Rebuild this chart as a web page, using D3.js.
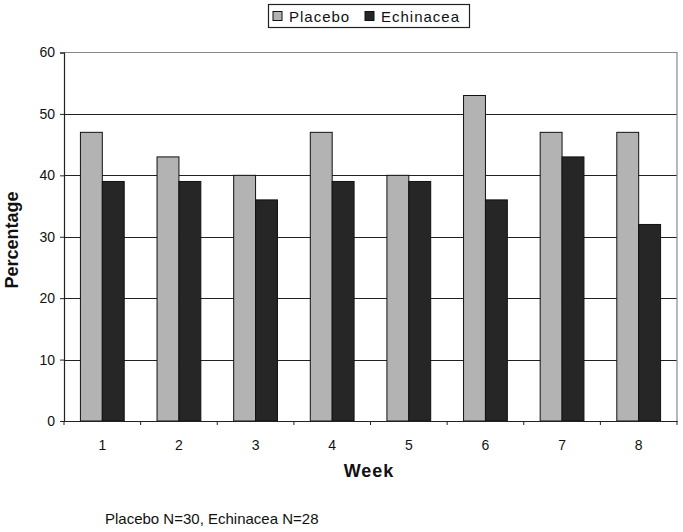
<!DOCTYPE html>
<html>
<head>
<meta charset="utf-8">
<script src="https://cdn.jsdelivr.net/npm/d3@7"></script>
<style>
  body { margin: 0; background: #fff; }
  text { font-family: Arial, "Liberation Sans", sans-serif; fill: #111; }
</style>
</head>
<body>
<script>
// chart data
var weeks = ["1", "2", "3", "4", "5", "6", "7", "8"];
var placebo = [47, 43, 40, 47, 40, 53, 47, 47];
var echinacea = [39, 39, 36, 39, 39, 36, 43, 32];
var seriesNames = ["Placebo", "Echinacea"];
var yTicks = [0, 10, 20, 30, 40, 50, 60];

var colors = ["#b3b3b3", "#262626"];

var svg = d3.select("body").append("svg")
    .attr("width", 683)
    .attr("height", 532);

var plotL = 64, plotR = 677, plotT = 52.5, plotB = 421;

var x = d3.scaleBand().domain(weeks).range([plotL, plotR]);
var y = d3.scaleLinear().domain([0, 60]).range([plotB, plotT]);
var barW = x.bandwidth() / 3.5;

// grid lines
svg.append("g").selectAll("line")
    .data(yTicks.filter(function(d){ return d > 0 && d < 60; }))
    .enter().append("line")
    .attr("x1", plotL).attr("x2", plotR)
    .attr("y1", function(d){ return Math.round(y(d)) + 0.5; })
    .attr("y2", function(d){ return Math.round(y(d)) + 0.5; })
    .attr("stroke", "#222").attr("stroke-width", 1.2);

// plot border (top/right)
svg.append("path")
    .attr("d", "M" + plotL + "," + plotT + "H" + plotR + "V" + plotB)
    .attr("fill", "none").attr("stroke", "#888").attr("stroke-width", 1.2);

// bars
var table = weeks.map(function(w, i){ return { week: w, vals: [placebo[i], echinacea[i]] }; });
var groups = svg.append("g").selectAll("g")
    .data(table).enter().append("g")
    .attr("transform", function(d){ return "translate(" + x(d.week) + ",0)"; });
groups.selectAll("rect")
    .data(function(d){ return d.vals; })
    .enter().append("rect")
    .attr("x", function(d, j){ return barW * 0.75 + j * barW; })
    .attr("y", function(d){ return y(d); })
    .attr("width", barW)
    .attr("height", function(d){ return plotB - y(d); })
    .attr("fill", function(d, j){ return colors[j]; })
    .attr("stroke", "#111").attr("stroke-width", 1);

// y axis
var yAxis = svg.append("g")
    .attr("transform", "translate(" + plotL + ",0)")
    .call(d3.axisLeft(y).tickValues(yTicks).tickSize(4).tickPadding(5));
yAxis.select(".domain").attr("stroke", "#222").attr("stroke-width", 1.2);
yAxis.selectAll(".tick line").attr("stroke", "#222");
yAxis.selectAll("text").style("font-size", "14px").attr("fill", "#222");

// x axis
var xAxis = svg.append("g")
    .attr("transform", "translate(0," + plotB + ")")
    .call(d3.axisBottom(x).tickSize(0).tickPadding(19));
xAxis.select(".domain").attr("stroke", "#222").attr("stroke-width", 1.2);
xAxis.selectAll("text").style("font-size", "14px").attr("fill", "#222");
// tick marks at category boundaries
svg.append("g").selectAll("line")
    .data(weeks.concat(["end"]))
    .enter().append("line")
    .attr("x1", function(d, i){ return plotL + i * x.step(); })
    .attr("x2", function(d, i){ return plotL + i * x.step(); })
    .attr("y1", plotB).attr("y2", plotB + 4)
    .attr("stroke", "#222");

// axis titles
svg.append("text")
    .attr("transform", "translate(18,240) rotate(-90)")
    .attr("text-anchor", "middle")
    .style("font-size", "18px").style("font-weight", "bold")
    .text("Percentage");
svg.append("text")
    .attr("x", 369).attr("y", 477)
    .attr("text-anchor", "middle")
    .style("font-size", "18px").style("font-weight", "bold")
    .style("letter-spacing", "1px")
    .text("Week");

// legend
var lg = svg.append("g");
lg.append("rect")
    .attr("x", 268.5).attr("y", 4.5).attr("width", 201).attr("height", 23)
    .attr("fill", "#fff").attr("stroke", "#222").attr("stroke-width", 1.2);
var legX = [273, 365];
seriesNames.forEach(function(n, i){
    lg.append("rect")
        .attr("x", legX[i]).attr("y", 11.5).attr("width", 9).attr("height", 9)
        .attr("fill", colors[i]).attr("stroke", "#111");
    lg.append("text")
        .attr("x", legX[i] + 16).attr("y", 21.5)
        .style("font-size", "15px").style("letter-spacing", "1px")
        .text(n);
});

// footnote
svg.append("text")
    .attr("x", 105).attr("y", 524)
    .style("font-size", "15px")
    .text("Placebo N=30, Echinacea N=28");
</script>
</body>
</html>
